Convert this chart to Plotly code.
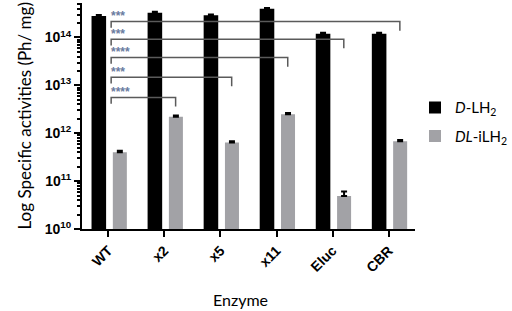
import numpy as np
import plotly.graph_objects as go

enzymes = ["WT", "x2", "x5", "x11", "Eluc", "CBR"]
d_lh2 = [2.8e14, 3.3e14, 2.9e14, 4.0e14, 1.2e14, 1.2e14]
d_lh2_err = [0.15e14, 0.15e14, 0.12e14, 0.15e14, 0.06e14, 0.06e14]
dl_ilh2 = [4.0e11, 2.2e12, 6.4e11, 2.5e12, 4.9e10, 6.8e11]
dl_ilh2_err = [0.3e11, 0.15e12, 0.4e11, 0.15e12, 1.2e10, 0.4e11]

bracket_targets = ["CBR", "Eluc", "x11", "x5", "x2"]
bracket_levels = [2.15e14, 9.2e13, 3.8e13, 1.48e13, 5.6e12]
bracket_stars = ["***", "***", "****", "***", "****"]

ytick_vals = [1e10, 1e11, 1e12, 1e13, 1e14]
ytick_text = ["<b>10<sup>%d</sup></b>" % int(np.log10(v)) for v in ytick_vals]

xpos = list(range(len(enzymes)))

fig = go.Figure()
fig.add_trace(go.Bar(
    x=xpos, y=d_lh2, name="<i>D</i>-LH<sub>2</sub>", legendgroup="a",
    marker=dict(color="black", line=dict(width=0)),
    width=0.26, offset=-0.30,
    error_y=dict(type="data", array=d_lh2_err, arrayminus=[0]*6,
                 color="black", thickness=2, width=3),
))
fig.add_trace(go.Bar(
    x=xpos, y=dl_ilh2, name="<i>DL</i>-iLH<sub>2</sub>", legendgroup="b",
    marker=dict(color="#a2a2a6", line=dict(width=0)),
    width=0.25, offset=0.08,
    error_y=dict(type="data", array=dl_ilh2_err, arrayminus=[0]*6,
                 color="black", thickness=2, width=3),
))

start_x = 0.05
for tgt, lvl, st in zip(bracket_targets, bracket_levels, bracket_stars):
    tx = enzymes.index(tgt) + 0.2
    fig.add_trace(go.Scatter(
        x=[start_x, start_x, tx, tx],
        y=[lvl / 10**0.13, lvl, lvl, lvl / 10**0.19],
        mode="lines", line=dict(color="#5a5a5a", width=1.5),
        showlegend=False, hoverinfo="skip",
    ))
    fig.add_annotation(
        x=start_x - 0.03, y=np.log10(lvl) + 0.11, xref="x", yref="y",
        text="<b>" + st + "</b>", showarrow=False, xanchor="left", yanchor="middle",
        font=dict(family="Liberation Sans", size=12, color="#6a7ba0"),
    )

fig.add_annotation(
    x=-(82 - 11) / 333, y=0.5, xref="paper", yref="paper",
    text="Log Specific activities (Ph/ mg)", textangle=-90, showarrow=False,
    font=dict(family="Lato", size=17, color="black"),
)
fig.add_annotation(
    x=(240 - 82) / 333, y=-(299 - 229) / 226, xref="paper", yref="paper",
    text="Enzyme", showarrow=False, yanchor="middle",
    font=dict(family="Lato", size=16, color="black"),
)

fig.update_layout(
    width=512, height=311,
    margin=dict(l=82, r=97, t=3, b=82, autoexpand=False),
    paper_bgcolor="white", plot_bgcolor="white",
    barmode="overlay",
    showlegend=True,
    legend=dict(x=1.0, y=0.61, xanchor="left", yanchor="top",
                font=dict(family="Lato", size=15, color="black"),
                itemwidth=30, tracegroupgap=6, bgcolor="rgba(0,0,0,0)"),
    xaxis=dict(
        range=[-0.47, 5.47], tickvals=xpos, automargin=False,
        ticktext=["<b>%s</b>" % e for e in enzymes],
        tickangle=-45, tickfont=dict(family="Liberation Sans", size=14, color="black"),
        showline=True, linecolor="black", linewidth=2,
        ticks="outside", ticklen=6, tickwidth=2, tickcolor="black",
        showgrid=False, zeroline=False,
    ),
    yaxis=dict(
        type="log", range=[10, 14.72], automargin=False,
        tickvals=ytick_vals, ticktext=ytick_text,
        tickfont=dict(family="Liberation Sans", size=14, color="black"),
        showline=True, linecolor="black", linewidth=2,
        ticks="outside", ticklen=6, tickwidth=2, tickcolor="black",
        minor=dict(ticks="outside", ticklen=3, tickwidth=1.5, tickcolor="black",
                   dtick="D1", showgrid=False),
        showgrid=False, zeroline=False,
    ),
)

fig.write_html("out.html", config={"displayModeBar": False},
               post_script="document.body.style.margin='0';")
